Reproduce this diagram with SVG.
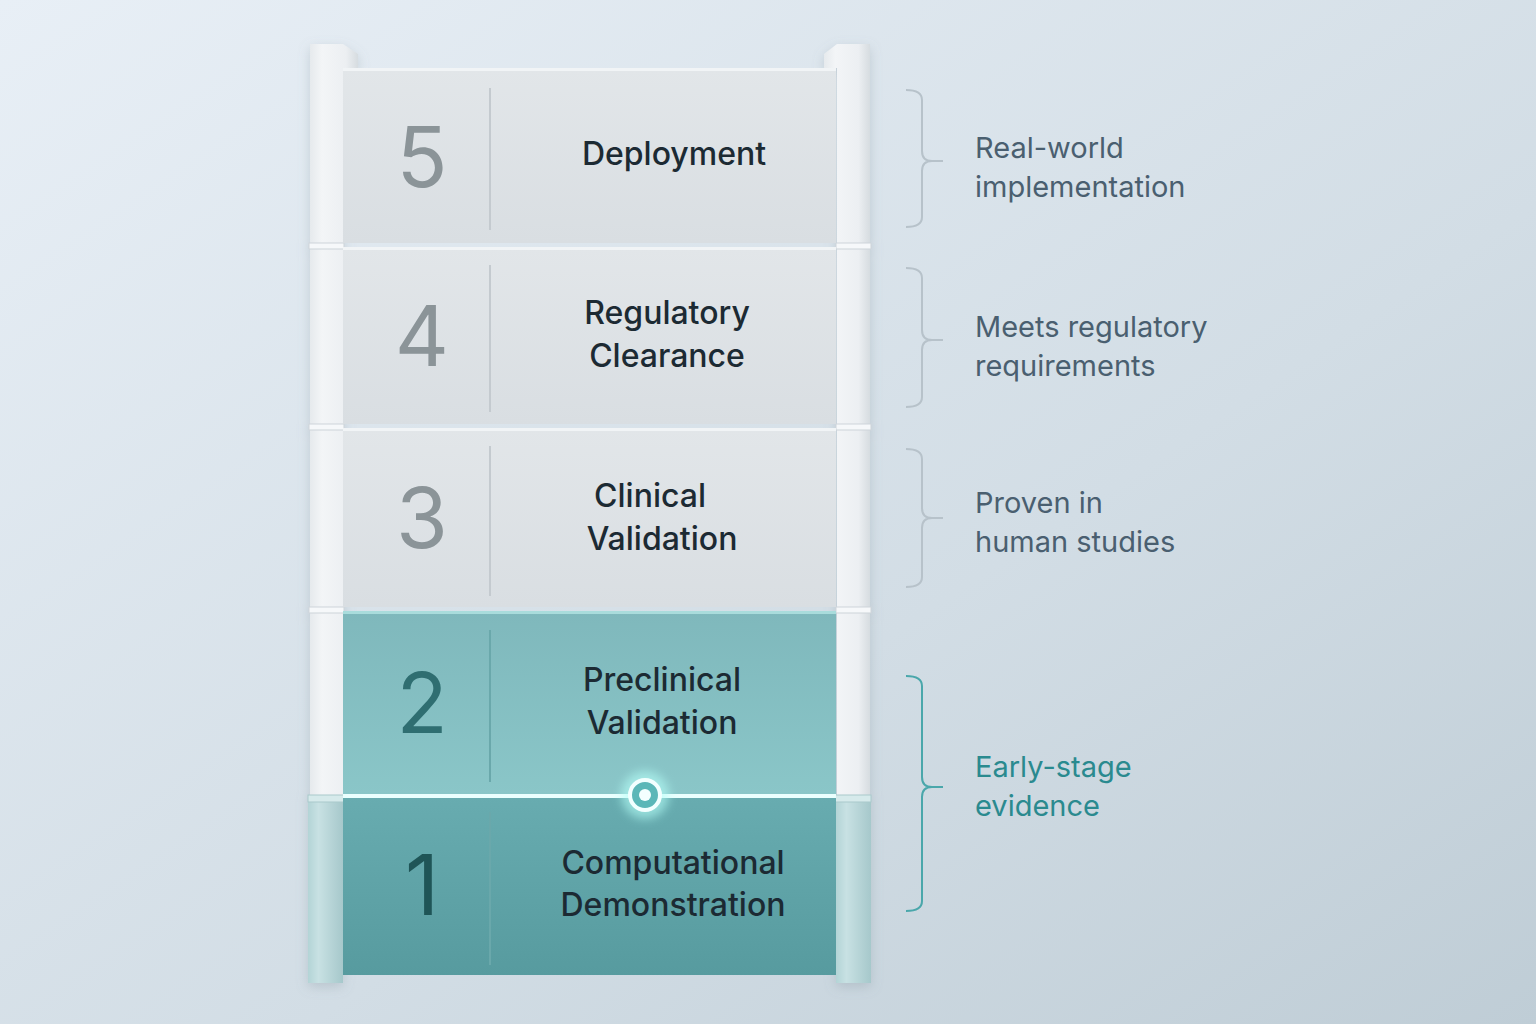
<svg xmlns="http://www.w3.org/2000/svg" width="1536" height="1024" viewBox="0 0 1536 1024">
<defs>
<linearGradient id="bg" x1="0" y1="0" x2="1" y2="1">
<stop offset="0" stop-color="#e8eff6"/><stop offset="0.6" stop-color="#d2dde5"/><stop offset="1" stop-color="#bfcdd6"/>
</linearGradient>
<linearGradient id="gray" x1="0" y1="0" x2="0" y2="1">
<stop offset="0" stop-color="#e2e6e9"/><stop offset="1" stop-color="#d9dee2"/>
</linearGradient>
<linearGradient id="teal2" x1="0" y1="0" x2="0" y2="1">
<stop offset="0" stop-color="#7fb8bc"/><stop offset="1" stop-color="#8ac6c8"/>
</linearGradient>
<linearGradient id="teal1" x1="0" y1="0" x2="0" y2="1">
<stop offset="0" stop-color="#68acb0"/><stop offset="1" stop-color="#579b9f"/>
</linearGradient>
<linearGradient id="rail" x1="0" y1="0" x2="1" y2="0">
<stop offset="0" stop-color="#e6eaed"/><stop offset="0.25" stop-color="#f3f5f7"/><stop offset="0.75" stop-color="#eceff2"/><stop offset="1" stop-color="#d6dce0"/>
</linearGradient>
<linearGradient id="railT" x1="0" y1="0" x2="1" y2="0">
<stop offset="0" stop-color="#b3d4d6"/><stop offset="0.3" stop-color="#c8e1e3"/><stop offset="1" stop-color="#a6c8cb"/>
</linearGradient>
<filter id="glow" x="-20%" y="-400%" width="140%" height="900%">
<feGaussianBlur stdDeviation="5"/>
</filter>
<filter id="sh" x="-10%" y="-10%" width="120%" height="120%">
<feDropShadow dx="0" dy="4" stdDeviation="6" flood-color="#7f8e99" flood-opacity="0.3"/>
</filter>
<style>
.num{font-family:Inter,"Noto Sans",sans-serif;font-size:84px;text-anchor:middle}
.lbl{font-family:Inter,"Noto Sans",sans-serif;font-size:32px;fill:#1c2a33;text-anchor:middle;font-weight:500}
.side{font-family:Inter,"Noto Sans",sans-serif;font-size:29px;fill:#4a5f70}
.sideT{font-family:Inter,"Noto Sans",sans-serif;font-size:29px;fill:#2a8a8f}
.br{fill:none;stroke:#b7c2ca;stroke-width:2}
.brT{fill:none;stroke:#4aa7ab;stroke-width:2}
.div{stroke:#c4cacf;stroke-width:2}
.divT{stroke:#6aa8ab;stroke-width:2}
.ledge{fill:#f6f8fa;stroke:#cdd4d9;stroke-width:1}
.top{fill:#f1f4f6}
</style>
</defs>
<rect width="1536" height="1024" fill="url(#bg)"/>

<g id="rails" filter="url(#sh)">
<path d="M310 44 H343 L358 54 V68 H343 V983 H310 Z" fill="url(#rail)"/>
<path d="M870 44 H837 L824 54 V68 H837 V983 H870 Z" fill="url(#rail)"/>
<rect x="308" y="797" width="35" height="186" fill="url(#railT)"/>
<rect x="836" y="797" width="35" height="186" fill="url(#railT)"/>
<rect class="ledge" x="309" y="243" width="35" height="6"/>
<rect class="ledge" x="836" y="243" width="35" height="6"/>
<rect class="ledge" x="309" y="424" width="35" height="6"/>
<rect class="ledge" x="836" y="424" width="35" height="6"/>
<rect class="ledge" x="309" y="607" width="35" height="6"/>
<rect class="ledge" x="836" y="607" width="35" height="6"/>
<rect x="308" y="795" width="36" height="7" fill="#d6eaeb" stroke="#a9c9cb" stroke-width="1"/>
<rect x="835" y="795" width="36" height="7" fill="#d6eaeb" stroke="#a9c9cb" stroke-width="1"/>
</g>

<g id="step5">
<rect x="343" y="68" width="493" height="175" fill="url(#gray)"/>
<rect class="top" x="343" y="68" width="493" height="3"/>
<line class="div" x1="490" y1="88" x2="490" y2="230"/>
<text class="num" x="422" y="187" fill="#8b9498">5</text>
<text class="lbl" x="674" y="165">Deployment</text>
</g>
<g id="step4">
<rect x="343" y="247" width="493" height="177" fill="url(#gray)"/>
<rect class="top" x="343" y="247" width="493" height="3"/>
<line class="div" x1="490" y1="265" x2="490" y2="412"/>
<text class="num" x="422" y="366" fill="#8b9498">4</text>
<text class="lbl" x="667" y="324">Regulatory</text>
<text class="lbl" x="667" y="367">Clearance</text>
</g>
<g id="step3">
<rect x="343" y="428" width="493" height="179" fill="url(#gray)"/>
<rect class="top" x="343" y="428" width="493" height="3"/>
<line class="div" x1="490" y1="446" x2="490" y2="596"/>
<text class="num" x="422" y="548" fill="#8b9498">3</text>
<text class="lbl" x="650" y="507">Clinical</text>
<text class="lbl" x="662" y="550">Validation</text>
</g>
<g id="step2">
<rect x="343" y="611" width="493" height="184" fill="url(#teal2)"/>
<rect x="343" y="611" width="493" height="3" fill="#a9dcdc"/>
<line class="divT" x1="490" y1="630" x2="490" y2="782"/>
<text class="num" x="422" y="733" fill="#2f6e71">2</text>
<text class="lbl" x="662" y="691">Preclinical</text>
<text class="lbl" x="662" y="734">Validation</text>
</g>
<g id="step1">
<rect x="343" y="795" width="493" height="180" fill="url(#teal1)"/>
<line class="divT" x1="490" y1="812" x2="490" y2="965"/>
<text class="num" x="422" y="915" fill="#1f5557">1</text>
<text class="lbl" x="673" y="874">Computational</text>
<text class="lbl" x="673" y="916">Demonstration</text>
</g>

<g id="marker">
<line x1="343" y1="796" x2="836" y2="796" stroke="#8ff7f0" stroke-width="12" filter="url(#glow)"/>
<line x1="343" y1="796" x2="836" y2="796" stroke="#eafffe" stroke-width="4"/>
<circle cx="645" cy="795" r="24" fill="#b5fff8" opacity="0.6" filter="url(#glow)"/>
<circle cx="645" cy="795" r="15" fill="#5bb7b8" stroke="#f2ffff" stroke-width="4"/>
<circle cx="645" cy="795" r="6" fill="#f4ffff"/>
</g>

<g id="connectors">
<path class="br" d="M906 90 Q922 90 922 100 V151 Q922 161 932 161 H943 M932 161 Q922 161 922 171 V217 Q922 227 906 227"/>
<path class="br" d="M906 268 Q922 268 922 278 V330 Q922 340 932 340 H943 M932 340 Q922 340 922 350 V397 Q922 407 906 407"/>
<path class="br" d="M906 449 Q922 449 922 459 V508 Q922 518 932 518 H943 M932 518 Q922 518 922 528 V577 Q922 587 906 587"/>
<path class="brT" d="M906 676 Q922 676 922 686 V777 Q922 787 932 787 H943 M932 787 Q922 787 922 797 V901 Q922 911 906 911"/>
</g>

<g id="notes">
<text class="side" x="975" y="158">Real-world</text>
<text class="side" x="975" y="197">implementation</text>
<text class="side" x="975" y="337">Meets regulatory</text>
<text class="side" x="975" y="376">requirements</text>
<text class="side" x="975" y="513">Proven in</text>
<text class="side" x="975" y="552">human studies</text>
<text class="sideT" x="975" y="777">Early-stage</text>
<text class="sideT" x="975" y="816">evidence</text>
</g>
</svg>
